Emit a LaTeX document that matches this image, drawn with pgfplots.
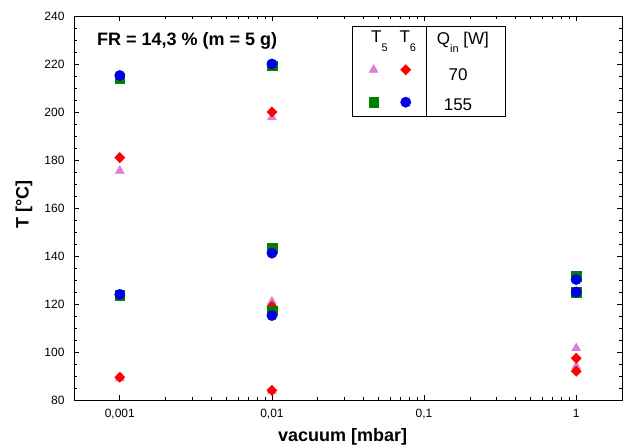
\documentclass[border=0pt]{standalone}
\usepackage{pgfplots}
\pgfplotsset{compat=1.18}
\usepackage{fontspec}
\setmainfont{Liberation Sans}
\definecolor{cpink}{RGB}{218,128,218}
\definecolor{cred}{RGB}{255,0,0}
\definecolor{cgreen}{RGB}{0,128,0}
\definecolor{cblue}{RGB}{0,0,230}
\newcommand{\px}[2]{([shift={({#1pt-74pt},{400pt-#2pt})}]ax.south west)}
\begin{document}
\begin{tikzpicture}
\begin{axis}[name=ax, scale only axis, width=548pt, height=384pt,
  xmode=log, xmin=0.0005, xmax=2, ymin=80, ymax=240,
  ytick={80,100,...,240}, minor y tick num=3,
  xtick={0.001,0.01,0.1,1}, xticklabels={{0,001},{0,01},{0,1},{1}},
  tick align=inside, major tick length=5pt, minor tick length=3pt,
  every tick/.style={black, line width=0.6pt},
  axis line style={line width=0.8pt},
  ticklabel style={font=\fontsize{12}{14}\selectfont},
  /pgf/number format/assume math mode=true,
  xticklabel style={yshift=-6pt},
  yticklabel style={xshift=-6pt},
  xlabel={vacuum [mbar]}, ylabel={T [°C]},
  xlabel style={at={(axis description cs:0.49,-0.109)}, anchor=base, font=\fontsize{18}{21}\selectfont\bfseries},
  ylabel style={at={(axis description cs:-0.0912,0.51)}, anchor=center, font=\fontsize{18}{21}\selectfont\bfseries},
  legend style={at={(axis description cs:0.577,0.8177)}, anchor=center, draw=none, fill=none,
    legend columns=2, row sep=22pt, nodes={inner sep=0pt},
    /tikz/every even column/.append style={column sep=20.7pt}},
  legend image code/.code={\draw[mark repeat=2,mark phase=2] plot coordinates {(0pt,0pt)(5pt,0pt)(10pt,0pt)}; \path (0pt,-5pt) (10pt,5pt);},
]
\addplot[only marks, mark=triangle*, mark size=5.2pt, color=cpink] coordinates {
(0.001,175.5) (0.001,89.0) (0.01,197.8) (0.01,121.0) (0.01,83.7) (1,101.6) (1,94.0)};
\addlegendentry{}
\addplot[only marks, mark=diamond*, mark size=5.2pt, mark options={xscale=1.3}, color=cred] coordinates {
(0.001,181.0) (0.001,89.5) (0.01,200.0) (0.01,119.0) (0.01,84.0) (1,97.4) (1,92.0)};
\addlegendentry{}
\addplot[only marks, mark=square*, mark size=4.8pt, color=cgreen] coordinates {
(0.001,214.0) (0.001,123.6) (0.01,219.3) (0.01,143.3) (0.01,117.2) (1,131.5) (1,125.0)};
\addlegendentry{}
\addplot[only marks, mark=*, mark size=5.2pt, color=cblue] coordinates {
(0.001,215.2) (0.001,124.0) (0.01,220.0) (0.01,141.2) (0.01,115.2) (1,130.2) (1,125.0)};
\addlegendentry{}
\end{axis}
\draw[line width=0.8pt] \px{352.7}{26.3} rectangle \px{505.7}{116};
\draw[line width=0.8pt] \px{426.7}{26.3} -- \px{426.7}{116};
\node[anchor=base west, inner sep=0pt] at \px{97}{46} {\fontsize{18}{21}\selectfont\bfseries FR = 14,3 \% (m = 5 g)};
\node[anchor=base west, inner sep=0pt] at \px{371}{43} {\fontsize{17}{20}\selectfont T\raisebox{-9pt}{\fontsize{11}{13}\selectfont 5}};
\node[anchor=base west, inner sep=0pt] at \px{399.3}{43} {\fontsize{17}{20}\selectfont T\raisebox{-9pt}{\fontsize{11}{13}\selectfont 6}};
\node[anchor=base west, inner sep=0pt] at \px{436.7}{45} {\fontsize{17}{20}\selectfont Q\raisebox{-8pt}{\fontsize{11}{13}\selectfont in} [W]};
\node[anchor=base, inner sep=0pt] at \px{458}{80.3} {\fontsize{17}{20}\selectfont 70};
\node[anchor=base, inner sep=0pt] at \px{458}{110.3} {\fontsize{17}{20}\selectfont 155};
\pgfresetboundingbox
\path ([shift={(-74pt,-46pt)}]ax.south west) rectangle ([shift={(8pt,16pt)}]ax.north east);
\end{tikzpicture}
\end{document}
